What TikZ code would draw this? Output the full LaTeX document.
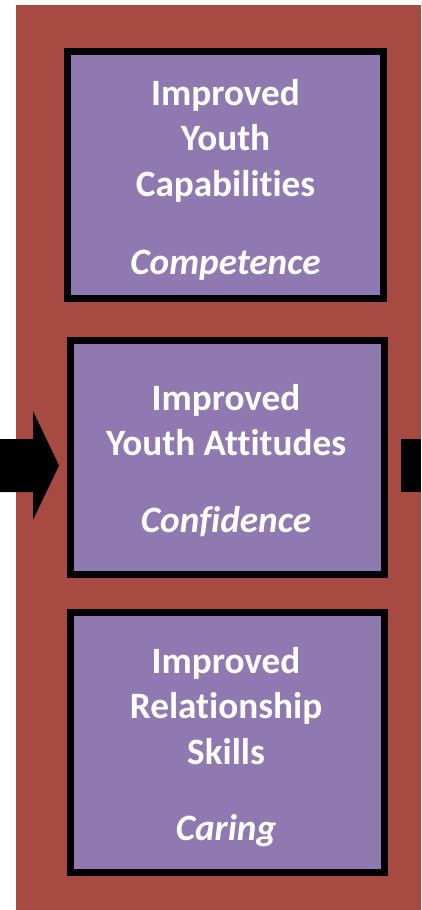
\documentclass[tikz,border=0pt]{standalone}
\usepackage{fontspec}
\setmainfont[Ligatures=NoCommon,RawFeature={-liga;-clig;-dlig}]{Carlito}
\definecolor{bgred}{RGB}{166,74,66}
\definecolor{boxpurple}{RGB}{144,121,177}
\begin{document}
\begin{tikzpicture}[x=1pt,y=-1pt,
  panel/.style={draw=black, line width=7pt, fill=boxpurple, rectangle, inner sep=0pt},
  ttl/.style={text=white, font=\fontsize{37.2}{45}\selectfont\bfseries, anchor=base, inner sep=0pt},
  sub/.style={text=white, font=\fontsize{37.2}{45}\selectfont\bfseries\itshape, anchor=base, inner sep=0pt}]
\useasboundingbox (0,0) rectangle (421,910);
\fill[bgred] (16,5) rectangle (421,910);
% arrows
\fill[black] (0,439) -- (33,439) -- (33,411) -- (59,465.5) -- (33,520) -- (33,492) -- (0,492) -- cycle;
\fill[black] (401,439) rectangle (421,492);
% boxes
\node[panel, minimum width=316pt, minimum height=247pt] (b1) at (225.5,175) {};
\node[panel, minimum width=314pt, minimum height=234pt] (b2) at (227.5,457.5) {};
\node[panel, minimum width=314pt, minimum height=260pt] (b3) at (227.5,742.5) {};
% box 1 text
\node[ttl] (b1l1) at (225.5,105) {Improved};
\node[ttl] (b1l2) at (225.5,150) {Youth};
\node[ttl] (b1l3) at (225.5,196) {Capabilities};
\node[sub] (b1s) at (225.5,274) {Competence};
% box 2 text
\node[ttl] (b2l1) at (226,410) {Improved};
\node[ttl] (b2l2) at (226,455) {Youth Attitudes};
\node[sub] (b2s) at (226,532) {Confidence};
% box 3 text
\node[ttl] (b3l1) at (226,673) {Improved};
\node[ttl] (b3l2) at (226,718.5) {Relationship};
\node[ttl] (b3l3) at (226,764) {Skills};
\node[sub] (b3s) at (226,840) {Caring};
\end{tikzpicture}
\end{document}
